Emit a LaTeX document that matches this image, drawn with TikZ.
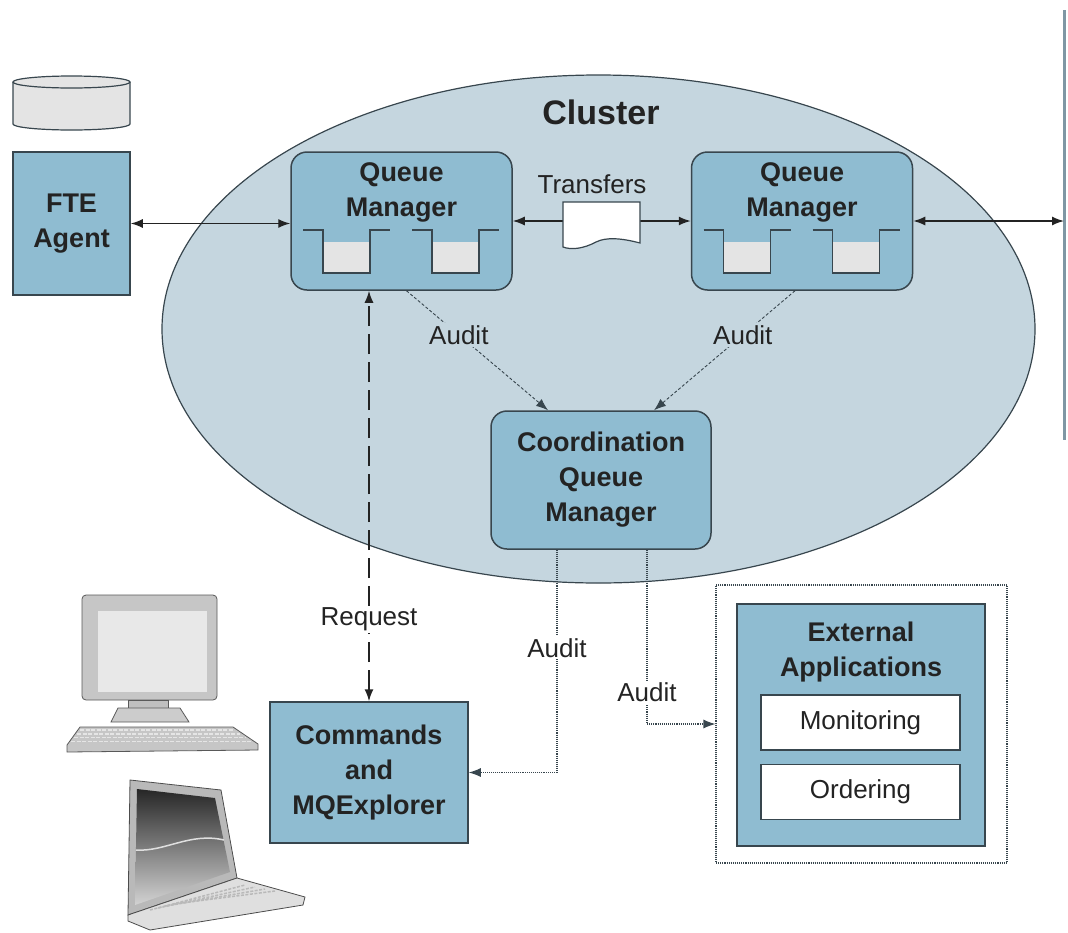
\documentclass[tikz,border=0pt]{standalone}
\usepackage{fontspec}
\setmainfont{Liberation Sans}
\usetikzlibrary{positioning,arrows.meta,calc,shapes.geometric}

\definecolor{boxblue}{HTML}{8FBCD1}
\definecolor{clusterblue}{HTML}{C5D6DF}
\definecolor{edge}{HTML}{38464E}
\definecolor{ink}{HTML}{232323}
\definecolor{diskgray}{HTML}{E4E4E4}
\definecolor{barcol}{HTML}{7F97A4}

\newcommand\boxfont{\fontsize{27}{35}\selectfont\bfseries}
\newcommand\lblfont{\fontsize{26}{32}\selectfont}

\tikzset{
  box/.style={draw=edge, fill=boxblue, line width=1.5pt, text=ink, align=center, font=\boxfont},
  qmbox/.style={box, rounded corners=16pt, minimum width=221pt, minimum height=138pt},
  appbox/.style={draw=edge, fill=white, line width=1.5pt, minimum width=199pt, minimum height=55pt, text=ink, font=\lblfont},
  title/.style={text=ink, align=center, font=\boxfont, inner sep=0pt},
  lbl/.style={text=ink, font=\lblfont, inner sep=2pt},
  tip/.tip={Latex[length=12pt,width=9pt]},
  arr/.style={line width=1.4pt, ink, tip-tip},
  audit/.style={line width=0.9pt, edge, densely dashed, -tip},
  auditdot/.style={line width=1.1pt, edge, densely dotted, -tip},
  queue/.pic={
    \fill[diskgray] (20,12) rectangle (67,43);
    \draw[edge, line width=1.5pt] (0,0) -- (20,0) -- (20,43) -- (67,43) -- (67,0) -- (87,0);
  }
}

\begin{document}
\begin{tikzpicture}[x=1pt, y=-1pt]

  \useasboundingbox (0,0) rectangle (1068,932);

  % cluster
  \node[ellipse, draw=edge, fill=clusterblue, line width=1.2pt, inner sep=0pt,
        minimum width=873pt, minimum height=508pt] (cluster) at (598.5,329) {};
  \node[text=ink, font=\fontsize{34}{40}\selectfont\bfseries] (clusterlbl) at (601,112) {Cluster};

  % disk and agent
  \draw[edge, fill=diskgray, line width=1.2pt] (13,82) -- (13,124)
    arc[start angle=180, end angle=0, x radius=58.5, y radius=6] -- (130,82);
  \draw[edge, fill=diskgray, line width=1.2pt] (71.5,82) ellipse[x radius=58.5, y radius=6];
  \node[box, minimum width=117pt, minimum height=143pt] (fte) at (71.5,223.5) {FTE\\Agent};

  % queue managers
  \node[qmbox] (qm1) at (401.5,221) {};
  \node[qmbox] (qm2) at (802,221) {};
  \node[title, below=11pt of qm1.north] (qm1t) {Queue\\Manager};
  \node[title, below=11pt of qm2.north] (qm2t) {Queue\\Manager};
  \foreach \q in {qm1,qm2}
    \foreach \dx in {-98.5,10.5}
      \pic at ($(\q.center)+(\dx,9)$) {queue};

  \node[qmbox, minimum width=220pt] (coord) at (601,480) {Coordination\\Queue\\Manager};

  % links along the top
  \coordinate (bartop) at (1064,10);
  \coordinate (barbot) at (1064,440);
  \draw[barcol, line width=3pt] (bartop) -- (barbot);

  \draw[arr] (fte.east) -- (fte.east -| qm1.west);
  \draw[arr] (qm1) -- (qm2);
  \draw[arr] (qm2.east) -- (qm2.east -| bartop);

  % transfer document
  \coordinate (doc) at (601,224);
  \begin{scope}[shift={(doc)}]
    \draw[edge, fill=white, line width=1.2pt] (-38,-22) -- (39,-22) -- (39,19)
      .. controls (20,14) and (5,13) .. (-5,18)
      .. controls (-18,25) and (-30,26) .. (-38,23) -- cycle;
  \end{scope}
  \node[lbl] (xfer) at (592,184) {Transfers};

  % audit from the queue managers
  \draw[audit] ([xshift=5pt]qm1.south) -- ([xshift=-53pt]coord.north)
    node[lbl, fill=clusterblue, pos=0.37] (audit1) {Audit};
  \draw[audit] ([xshift=-7pt]qm2.south) -- ([xshift=53pt]coord.north)
    node[lbl, fill=clusterblue, pos=0.37] (audit2) {Audit};

  % commands
  \node[box, minimum width=198pt, minimum height=141pt] (cmd) at (369,772.5) {Commands\\and\\MQExplorer};
  \draw[line width=1.5pt, ink, dash pattern=on 20pt off 8pt, tip-tip]
    (cmd.north) -- (cmd.north |- qm1.south)
    node[lbl, fill=white, pos=0.2] (req) {Request};

  % external applications
  \node[draw=edge, densely dotted, line width=1.1pt, minimum width=291pt, minimum height=278pt] (ext) at (861.5,724) {};
  \node[box, minimum width=248pt, minimum height=242pt] (apps) at (861,725) {};
  \node[title, below=18pt of apps.north] (appst) {External\\Applications};
  \node[appbox] (mon) at (860.5,722.5) {Monitoring};
  \node[appbox] (ord) at (860.5,792) {Ordering};

  % audit from the coordination queue manager
  \draw[auditdot] ([xshift=-44pt]coord.south) |- (cmd.east)
    node[lbl, fill=white, pos=0.22] (audit3) {Audit};
  \draw[auditdot] ([xshift=46pt]coord.south) |- (ext.west)
    node[lbl, fill=white, pos=0.41] (audit4) {Audit};

  % desktop
  \draw[gray!70!black, fill=gray!45, line width=0.8pt, rounded corners=4pt] (82,595) rectangle (217,700);
  \fill[gray!18] (98,611) rectangle (207,692);
  \draw[gray!70!black, fill=gray!50, line width=0.8pt] (128,700) rectangle (168,710);
  \draw[gray!70!black, fill=gray!40, line width=0.8pt] (118,708) -- (180,708) -- (189,722) -- (111,722) -- cycle;
  \draw[gray!70!black, fill=gray!45, line width=0.8pt] (80,727) -- (233,727) -- (258,744) -- (258,750)
    -- (67,752) -- (67,745) -- cycle;
  \foreach \r in {0,...,3}
    \draw[gray!20, line width=1.6pt, dash pattern=on 4pt off 1.5pt]
      (80-3*\r,730+3.8*\r) -- (234+6*\r,730+3.8*\r);

  % laptop
  \draw[gray!60!black, fill=gray!55, line width=0.8pt] (130,780) -- (221,790) -- (237,878) -- (128,915) -- cycle;
  \shade[top color=black!85, bottom color=gray!35] (137,789) -- (215,798) -- (230,872) -- (135,905) -- cycle;
  \draw[gray!25, line width=1.5pt] (136,850) .. controls (165,852) and (190,832) .. (224,840);
  \draw[gray!60!black, fill=gray!25, line width=0.8pt] (128,915) -- (237,878) -- (305,897) -- (303,905)
    -- (150,930) -- (128,921) -- cycle;
  \foreach \r in {0,...,3}
    \draw[gray!55, line width=1.5pt, dash pattern=on 3pt off 1.5pt]
      (150+8*\r,910-2*\r) -- (245+10*\r,885+2*\r);

\end{tikzpicture}
\end{document}
